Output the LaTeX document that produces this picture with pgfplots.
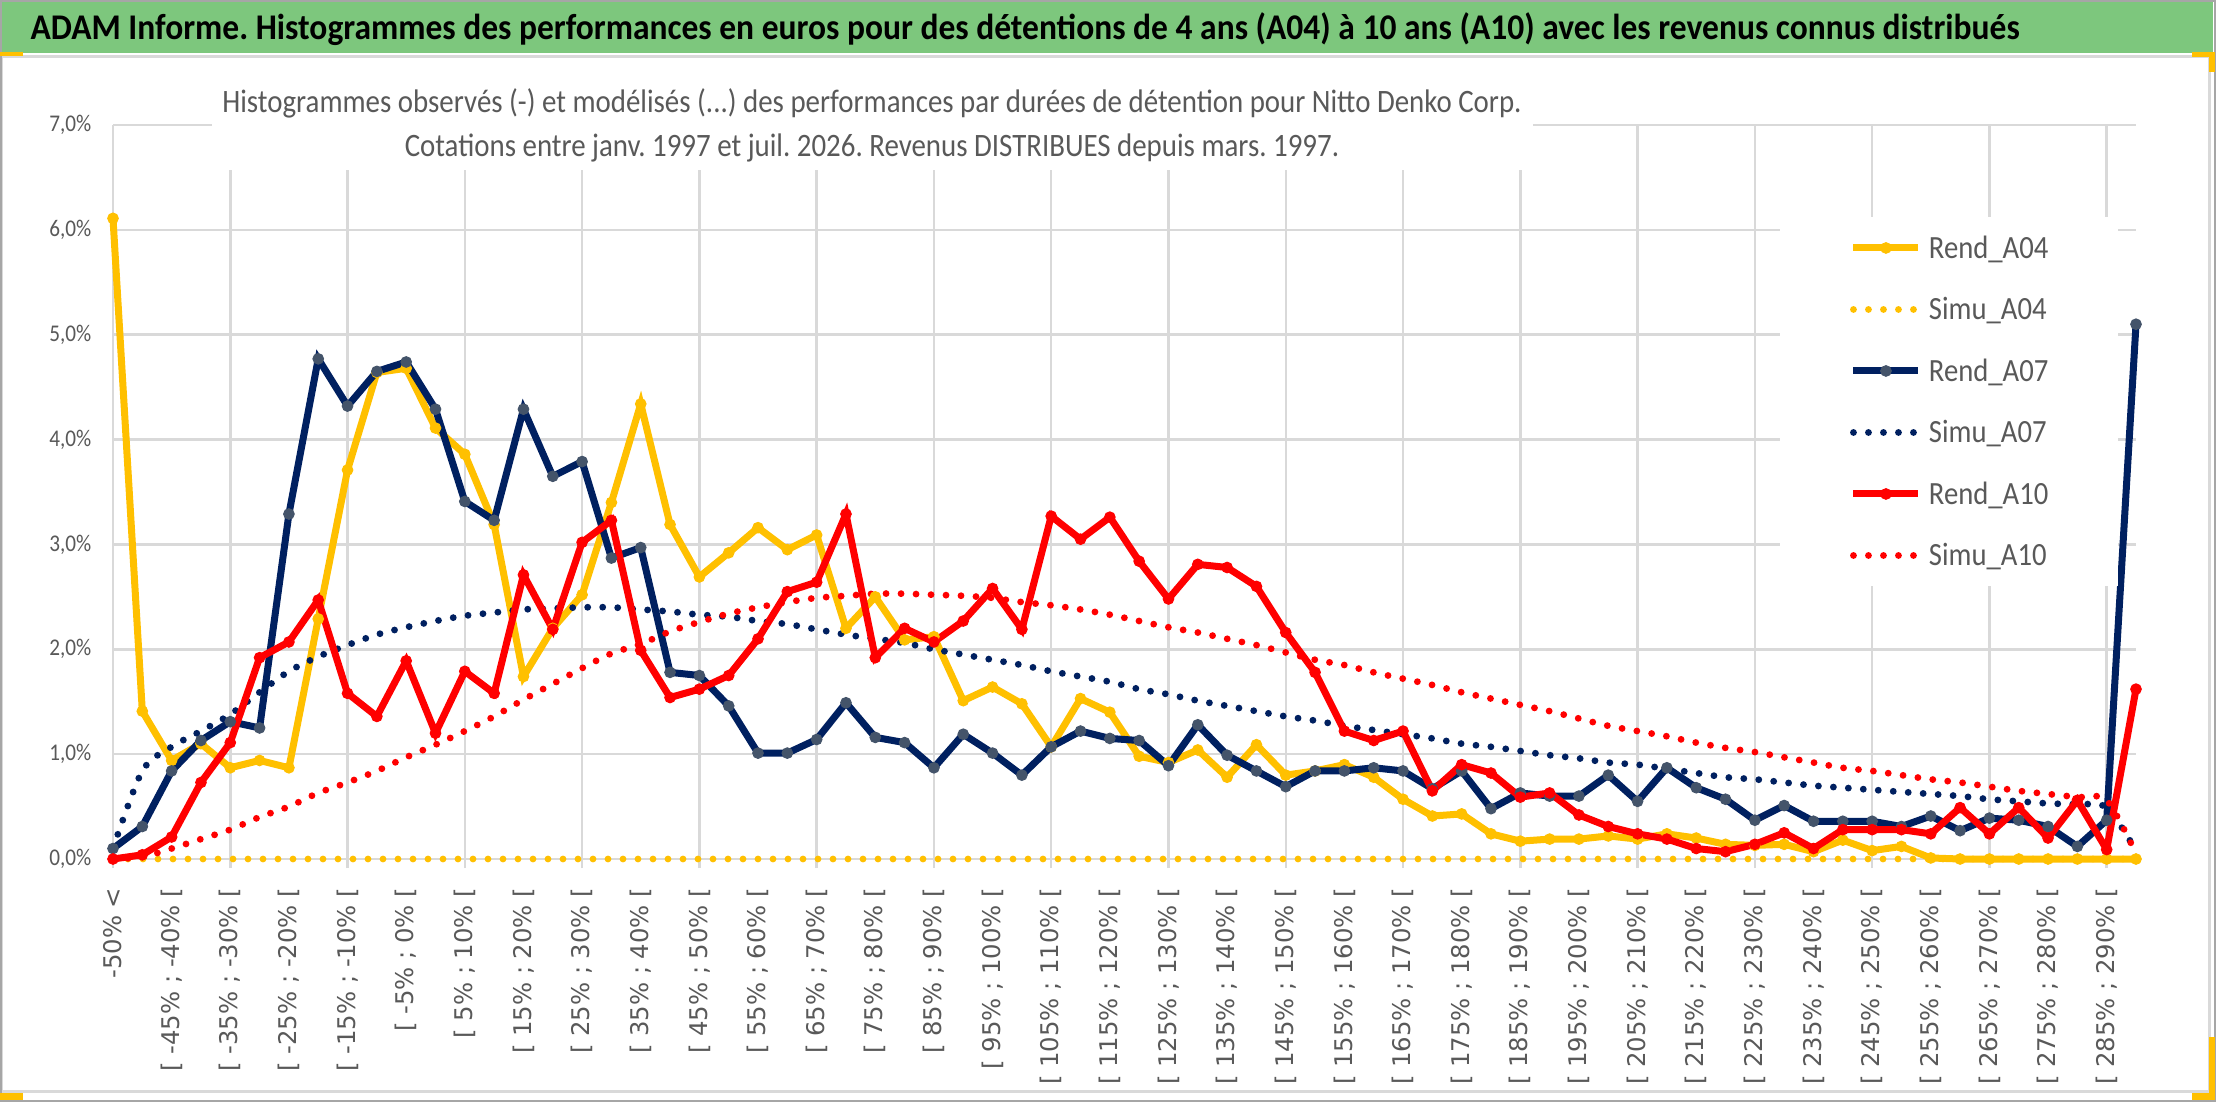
\documentclass[border=0pt]{standalone}
\usepackage{fontspec}
\usepackage{graphicx}
\usepackage{pgfplots}
\pgfplotsset{compat=1.18}
\usepackage{pgfplotstable}
\setmainfont{Carlito}
\newfontfamily\dejavu{DejaVu Sans}
\definecolor{ygold}{HTML}{FFC000}
\definecolor{navy}{HTML}{002060}
\definecolor{slate}{HTML}{44546A}
\definecolor{redA}{HTML}{FF0000}
\definecolor{gridgray}{HTML}{D9D9D9}
\definecolor{txtgray}{HTML}{595959}
\definecolor{titlegreen}{RGB}{125,199,125}
\definecolor{bordergray}{HTML}{A6A6A6}
\newcommand\vs[1]{\scalebox{1}[1.13]{#1}}
\newcommand\LL[2]{[ #1\% ; #2\% [}
\newcommand\legfont{\fontsize{8.6bp}{9bp}\selectfont}
\frenchspacing

\pgfplotstableread{
x a04 a07 a10 s04 s07 s10
0 6.11 0.10 0.00 0 0.10 0.00
1 1.41 0.31 0.04 0 0.84 0.02
2 0.94 0.84 0.21 0 1.07 0.10
3 1.10 1.13 0.73 0 1.22 0.19
4 0.87 1.31 1.11 0 1.38 0.28
5 0.94 1.25 1.92 0 1.59 0.40
6 0.87 3.29 2.07 0 1.79 0.50
7 2.29 4.77 2.47 0 1.93 0.63
8 3.71 4.32 1.58 0 2.04 0.73
9 4.64 4.65 1.36 0 2.14 0.84
10 4.68 4.74 1.89 0 2.21 0.97
11 4.11 4.29 1.20 0 2.27 1.09
12 3.86 3.41 1.79 0 2.32 1.22
13 3.19 3.23 1.58 0 2.35 1.36
14 1.74 4.29 2.71 0 2.38 1.52
15 2.20 3.65 2.19 0 2.39 1.67
16 2.52 3.79 3.02 0 2.40 1.82
17 3.40 2.87 3.23 0 2.40 1.96
18 4.34 2.97 1.99 0 2.38 2.05
19 3.19 1.78 1.54 0 2.36 2.17
20 2.69 1.75 1.62 0 2.33 2.26
21 2.92 1.46 1.75 0 2.31 2.34
22 3.16 1.01 2.10 0 2.27 2.40
23 2.95 1.01 2.55 0 2.24 2.45
24 3.09 1.14 2.64 0 2.19 2.49
25 2.20 1.49 3.29 0 2.14 2.51
26 2.50 1.16 1.92 0 2.10 2.53
27 2.09 1.11 2.20 0 2.06 2.53
28 2.12 0.87 2.07 0 2.00 2.52
29 1.51 1.19 2.27 0 1.95 2.51
30 1.64 1.01 2.58 0 1.90 2.49
31 1.48 0.80 2.19 0 1.85 2.45
32 1.07 1.07 3.27 0 1.79 2.42
33 1.53 1.22 3.05 0 1.74 2.38
34 1.40 1.15 3.26 0 1.69 2.33
35 0.98 1.13 2.84 0 1.62 2.27
36 0.92 0.89 2.48 0 1.57 2.21
37 1.04 1.28 2.81 0 1.51 2.16
38 0.78 0.99 2.78 0 1.46 2.10
39 1.09 0.84 2.60 0 1.41 2.04
40 0.80 0.69 2.16 0 1.36 1.97
41 0.84 0.84 1.78 0 1.32 1.90
42 0.90 0.84 1.22 0 1.27 1.85
43 0.78 0.87 1.13 0 1.23 1.78
44 0.57 0.84 1.22 0 1.19 1.72
45 0.41 0.67 0.65 0 1.15 1.66
46 0.43 0.84 0.90 0 1.10 1.59
47 0.24 0.48 0.82 0 1.07 1.53
48 0.17 0.63 0.59 0 1.03 1.47
49 0.19 0.60 0.63 0 0.99 1.41
50 0.19 0.60 0.42 0 0.96 1.34
51 0.22 0.80 0.31 0 0.92 1.27
52 0.19 0.55 0.24 0 0.90 1.22
53 0.24 0.87 0.19 0 0.86 1.17
54 0.20 0.68 0.10 0 0.82 1.11
55 0.14 0.57 0.07 0 0.78 1.06
56 0.13 0.37 0.14 0 0.76 1.02
57 0.14 0.51 0.25 0 0.73 0.97
58 0.07 0.36 0.10 0 0.70 0.92
59 0.18 0.36 0.28 0 0.68 0.87
60 0.08 0.36 0.28 0 0.66 0.84
61 0.12 0.31 0.28 0 0.64 0.80
62 0.01 0.41 0.24 0 0.62 0.76
63 0.00 0.27 0.49 0 0.60 0.73
64 0.00 0.39 0.24 0 0.57 0.69
65 0.00 0.37 0.49 0 0.55 0.65
66 0.00 0.31 0.20 0 0.53 0.62
67 0.00 0.12 0.56 0 0.52 0.59
68 0.00 0.37 0.09 0 0.49 0.56
69 0.00 5.10 1.62 0 0.08 0.05
}\data

\begin{document}
\begin{tikzpicture}
\path[use as bounding box] (0,0) rectangle (664.8bp,-330.6bp);
\begin{scope}[x=0.3bp,y=-0.3bp]
  \fill[white] (0,0) rectangle (2216,1102);
  \fill[titlegreen] (0,0) rectangle (2213,53);
  \draw[gridgray, line width=0.9bp] (2,57) -- (2210,57) -- (2210,1092) -- (2,1092) -- cycle;
  \draw[bordergray, line width=0.6bp] (1,1) rectangle (2215,1101);
  % selection handles
  \fill[ygold] (0,52) rectangle (23,56);
  \fill[ygold] (2192,52) rectangle (2215,57);
  \fill[ygold] (2209,52) rectangle (2215,72);
  \fill[ygold] (0,1093) rectangle (23,1100);
  \fill[ygold] (2192,1093) rectangle (2215,1100);
  \fill[ygold] (2209,1037) rectangle (2215,1100);
  \node[anchor=base west, inner sep=0pt] at (30,40)
    {\fontsize{10.05bp}{12bp}\selectfont\bfseries\scalebox{1}[1.08]{ADAM Informe. Histogrammes des performances en euros pour des détentions de 4 ans (A04) à 10 ans (A10) avec les revenus connus distribués}};
\end{scope}

\begin{axis}[
  at={(33.9bp,-257.7bp)}, anchor=south west,
  scale only axis, width=606.9bp, height=220.2bp,
  xmin=0, xmax=69, ymin=0, ymax=7,
  clip=false,
  axis line style={draw=none},
  xtick={0,2,...,68},
  xticklabels={{-50\% <},\LL{-45}{-40},\LL{-35}{-30},\LL{-25}{-20},\LL{-15}{-10},\LL{-5}{0},
    \LL{5}{10},\LL{15}{20},\LL{25}{30},\LL{35}{40},\LL{45}{50},\LL{55}{60},\LL{65}{70},
    \LL{75}{80},\LL{85}{90},\LL{95}{100},\LL{105}{110},\LL{115}{120},\LL{125}{130},
    \LL{135}{140},\LL{145}{150},\LL{155}{160},\LL{165}{170},\LL{175}{180},\LL{185}{190},
    \LL{195}{200},\LL{205}{210},\LL{215}{220},\LL{225}{230},\LL{235}{240},\LL{245}{250},
    \LL{255}{260},\LL{265}{270},\LL{275}{280},\LL{285}{290}},
  minor xtick={0,4,...,68},
  xminorgrids=true, xmajorgrids=false,
  ytick={0,1,...,7},
  yticklabels={{\vs{0,0\%}},{\vs{1,0\%}},{\vs{2,0\%}},{\vs{3,0\%}},{\vs{4,0\%}},{\vs{5,0\%}},{\vs{6,0\%}},{\vs{7,0\%}}},
  ymajorgrids=true,
  major grid style={gridgray, line width=0.75bp},
  minor grid style={gridgray, line width=0.75bp},
  major tick length=0pt, minor tick length=2.7bp,
  tick align=outside, xtick pos=bottom, ytick pos=left,
  minor tick style={gridgray, line width=0.75bp},
  xticklabel style={font=\dejavu\fontsize{7.3bp}{8bp}\selectfont, text=txtgray, rotate=90, anchor=east, inner sep=0pt},
  xticklabel shift=8.4bp,
  yticklabel style={font=\fontsize{6.36bp}{7bp}\selectfont, text=txtgray, anchor=east, inner sep=0pt},
  yticklabel shift=6.3bp,
  legend cell align=left,
  legend image code/.code={\draw[mark repeat=2,mark phase=2,#1] plot coordinates {(0bp,0bp) (9.75bp,0bp) (19.5bp,0bp)};},
  legend style={at={(0.8240,0.8747)}, anchor=north west, draw=none, fill=white,
    inner xsep=21bp, inner ysep=5.4bp, outer sep=0pt,
    font=\legfont, text=txtgray,
    row sep=10.65bp, column sep=2.1bp,
    nodes={inner sep=0pt, text height=7bp, text depth=0.8bp, font=\legfont}},
  legend entries={\legfont\vs{Rend\_A04},\legfont\vs{Simu\_A04},\legfont\vs{Rend\_A07},\legfont\vs{Simu\_A07},\legfont\vs{Rend\_A10},\legfont\vs{Simu\_A10}},
]
\addplot[ygold, line width=2.1bp, mark=*, mark size=1.6bp, mark options={fill=ygold, draw=ygold, line width=0.3bp}] table[x=x,y=a04]{\data};
\addplot[ygold, line width=2.05bp, dash pattern=on 0bp off 4.5bp, line cap=round, no marks] table[x=x,y=s04]{\data};
\addplot[navy, line width=2.1bp, mark=*, mark size=1.6bp, mark options={fill=slate, draw=slate, line width=0.3bp}] table[x=x,y=a07]{\data};
\addplot[navy, line width=2.05bp, dash pattern=on 0bp off 4.5bp, line cap=round, no marks, smooth] table[x=x,y=s07]{\data};
\addplot[redA, line width=2.1bp, mark=*, mark size=1.6bp, mark options={fill=redA, draw=redA, line width=0.3bp}] table[x=x,y=a10]{\data};
\addplot[redA, line width=2.05bp, dash pattern=on 0bp off 4.5bp, line cap=round, no marks, smooth] table[x=x,y=s10]{\data};
\end{axis}

\begin{scope}[x=0.3bp,y=-0.3bp]
  \fill[white] (212,76) rectangle (1533,170);
  \node[anchor=base, inner sep=0pt, text=txtgray] at (872,113)
    {\fontsize{8.67bp}{10bp}\selectfont\vs{Histogrammes observés (-) et modélisés (...) des performances par durées de détention pour Nitto Denko Corp.}};
  \node[anchor=base, inner sep=0pt, text=txtgray] at (872,157)
    {\fontsize{8.67bp}{10bp}\selectfont\vs{Cotations entre janv. 1997 et juil. 2026. Revenus DISTRIBUES depuis mars. 1997.}};
\end{scope}
\end{tikzpicture}
\end{document}
